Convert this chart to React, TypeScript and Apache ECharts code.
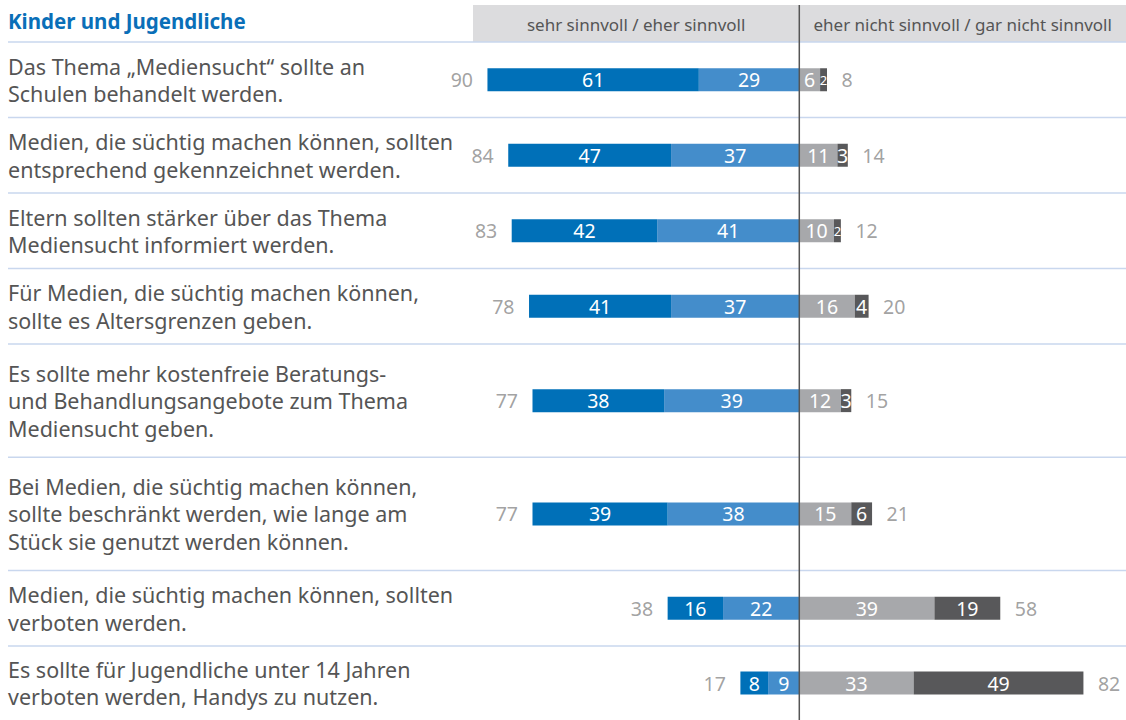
import React, { useEffect, useRef } from "react";
import * as echarts from "echarts";

const questions = [
  "Das Thema „Mediensucht“ sollte an\nSchulen behandelt werden.",
  "Medien, die süchtig machen können, sollten\nentsprechend gekennzeichnet werden.",
  "Eltern sollten stärker über das Thema\nMediensucht informiert werden.",
  "Für Medien, die süchtig machen können,\nsollte es Altersgrenzen geben.",
  "Es sollte mehr kostenfreie Beratungs-\nund Behandlungsangebote zum Thema\nMediensucht geben.",
  "Bei Medien, die süchtig machen können,\nsollte beschränkt werden, wie lange am\nStück sie genutzt werden können.",
  "Medien, die süchtig machen können, sollten\nverboten werden.",
  "Es sollte für Jugendliche unter 14 Jahren\nverboten werden, Handys zu nutzen.",
];
const sehrSinnvoll = [61, 47, 42, 41, 38, 39, 16, 8];
const eherSinnvoll = [29, 37, 41, 37, 39, 38, 22, 9];
const eherNichtSinnvoll = [6, 11, 10, 16, 12, 15, 39, 33];
const garNichtSinnvoll = [2, 3, 2, 4, 3, 6, 19, 49];
const totalSinnvoll = [90, 84, 83, 78, 77, 77, 38, 17];
const totalNichtSinnvoll = [8, 14, 12, 20, 15, 21, 58, 82];
const headerLeft = "sehr sinnvoll / eher sinnvoll";
const headerRight = "eher nicht sinnvoll / gar nicht sinnvoll";
const titleText = "Kinder und Jugendliche";

const FONT = "'Noto Sans', sans-serif";
const C_DARKBLUE = "#0070b8";
const C_LIGHTBLUE = "#448dcb";
const C_LIGHTGRAY = "#a7a8ab";
const C_DARKGRAY = "#58585a";
const C_TOTAL = "#8a8a8a";
const C_TEXT = "#555555";
const C_SEP = "#c9d7ee";

export default function App() {
  const ref = useRef<HTMLDivElement>(null);
  useEffect(() => {
    if (!ref.current) return;
    const chart = echarts.init(ref.current, undefined, { renderer: "svg" });

    const W = 1126;
    const ZERO_X = 799.3;
    const UNIT = 3.465;
    const XMIN = -96;
    const XMAX = 94;
    const gridLeft = ZERO_X + XMIN * UNIT;
    const gridWidth = (XMAX - XMIN) * UNIT;
    const TOP = 42;
    const LINE = 37.75;
    const lineCounts = questions.map((q) => q.split("\n").length);
    const bounds: number[] = [TOP];
    lineCounts.forEach((n) => bounds.push(bounds[bounds.length - 1] + n * LINE));

    const grids: any[] = [];
    const xAxes: any[] = [];
    const yAxes: any[] = [];
    const series: any[] = [];

    const inLabel = (v: number) => ({
      value: v,
      label: { fontSize: Math.abs(v) <= 2 ? 13 : 19.5 },
    });

    questions.forEach((q, i) => {
      grids.push({
        left: gridLeft,
        width: gridWidth,
        top: bounds[i],
        height: bounds[i + 1] - bounds[i],
      });
      xAxes.push({ type: "value", gridIndex: i, min: XMIN, max: XMAX, show: false });
      yAxes.push({
        type: "category",
        gridIndex: i,
        data: [q],
        axisLine: { show: false },
        axisTick: { show: false },
        splitLine: { show: false },
        axisLabel: {
          align: "left",
          margin: gridLeft - 8,
          fontSize: 21.5,
          lineHeight: 27.5,
          color: C_TEXT,
          fontFamily: FONT,
        },
      });
      const barCommon = {
        type: "bar",
        xAxisIndex: i,
        yAxisIndex: i,
        stack: "s" + i,
        barWidth: 23,
        label: {
          show: true,
          position: "inside",
          color: "#ffffff",
          fontFamily: FONT,
          fontSize: 19.5,
          formatter: (p: any) => String(Math.abs(p.value)),
        },
      };
      series.push({
        ...barCommon,
        name: "eher sinnvoll",
        itemStyle: { color: C_LIGHTBLUE },
        data: [inLabel(-eherSinnvoll[i])],
      });
      series.push({
        ...barCommon,
        name: "sehr sinnvoll",
        itemStyle: { color: C_DARKBLUE },
        data: [inLabel(-sehrSinnvoll[i])],
      });
      series.push({
        ...barCommon,
        name: "eher nicht sinnvoll",
        itemStyle: { color: C_LIGHTGRAY },
        data: [inLabel(eherNichtSinnvoll[i])],
      });
      series.push({
        ...barCommon,
        name: "gar nicht sinnvoll",
        itemStyle: { color: C_DARKGRAY },
        data: [inLabel(garNichtSinnvoll[i])],
      });
      const totalLabel = {
        show: true,
        color: C_TOTAL,
        fontFamily: FONT,
        fontSize: 19.5,
        distance: 14,
      };
      series.push({
        type: "scatter",
        xAxisIndex: i,
        yAxisIndex: i,
        symbolSize: 1,
        itemStyle: { color: "rgba(0,0,0,0)" },
        data: [[-totalSinnvoll[i], 0]],
        label: { ...totalLabel, position: "left", formatter: () => String(totalSinnvoll[i]) },
      });
      series.push({
        type: "scatter",
        xAxisIndex: i,
        yAxisIndex: i,
        symbolSize: 1,
        itemStyle: { color: "rgba(0,0,0,0)" },
        data: [[totalNichtSinnvoll[i], 0]],
        label: { ...totalLabel, position: "right", formatter: () => String(totalNichtSinnvoll[i]) },
      });
    });

    const graphic: any[] = [
      {
        type: "rect",
        shape: { x: 473, y: 5, width: W - 473, height: 37 },
        style: { fill: "#dcdcde" },
        z: -1,
      },
      {
        type: "text",
        x: (473 + ZERO_X) / 2,
        y: 24,
        style: {
          text: headerLeft,
          fill: C_TEXT,
          font: `17px ${FONT}`,
          textAlign: "center",
          textVerticalAlign: "middle",
        },
      },
      {
        type: "text",
        x: (ZERO_X + W) / 2,
        y: 24,
        style: {
          text: headerRight,
          fill: C_TEXT,
          font: `17px ${FONT}`,
          textAlign: "center",
          textVerticalAlign: "middle",
        },
      },
    ];
    bounds.slice(0, bounds.length - 1).forEach((y) => {
      graphic.push({
        type: "line",
        shape: { x1: 8, y1: y, x2: W, y2: y },
        style: { stroke: C_SEP, lineWidth: 1.5 },
        z: 1,
      });
    });
    graphic.push({
      type: "line",
      shape: { x1: ZERO_X, y1: 5, x2: ZERO_X, y2: 720 },
      style: { stroke: "#555555", lineWidth: 1.5 },
      z: 100,
    });

    chart.setOption({
      animation: false,
      title: {
        text: titleText,
        left: 8,
        top: 10,
        padding: 0,
        textStyle: { color: "#0a6fb8", fontSize: 20.5, fontWeight: "bold", fontFamily: FONT },
      },
      grid: grids,
      xAxis: xAxes,
      yAxis: yAxes,
      series,
      graphic,
    });
    return () => chart.dispose();
  }, []);
  return (
    <div
      ref={ref}
      style={{ position: "fixed", left: 0, top: 0, width: 1126, height: 720, background: "#fff" }}
    />
  );
}
